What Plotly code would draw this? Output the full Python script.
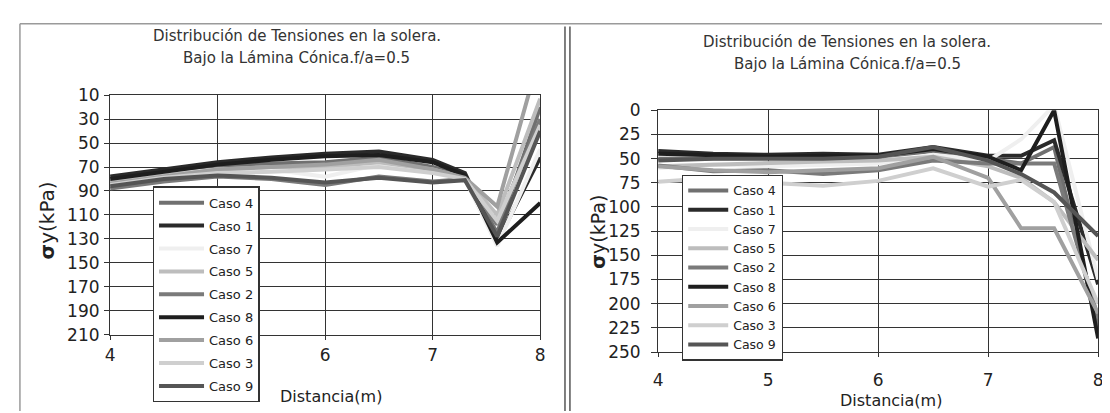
import plotly.graph_objects as go

W, H = 1110, 413

names = ["Caso 4", "Caso 1", "Caso 7", "Caso 5", "Caso 2", "Caso 8", "Caso 6", "Caso 3", "Caso 9"]
colors = ["#707070", "#2a2a2a", "#efefef", "#bdbdbd", "#7a7a7a", "#1e1e1e", "#a0a0a0", "#cfcfcf", "#555555"]

x_dist = [4, 4.5, 5, 5.5, 6, 6.5, 7, 7.3, 7.6, 8]

# Left chart values (kPa)
left_caso4 = [82, 76, 70, 67, 66, 62, 70, 78, 125, 20]
left_caso1 = [78, 72, 66, 62, 59, 57, 64, 75, 132, 62]
left_caso7 = [81, 76, 72, 72, 78, 68, 74, 80, 136, 55]
left_caso5 = [83, 77, 72, 70, 70, 66, 72, 79, 110, 13]
left_caso2 = [88, 82, 78, 80, 85, 78, 82, 80, 118, 30]
left_caso8 = [80, 74, 68, 64, 61, 60, 66, 77, 133, 100]
left_caso6 = [84, 78, 72, 70, 68, 64, 72, 79, 103, -25]
left_caso3 = [85, 79, 75, 74, 72, 70, 75, 80, 115, 35]
left_caso9 = [86, 80, 77, 79, 83, 79, 83, 81, 128, 40]

# Right chart values (kPa)
right_caso4 = [50, 50, 50, 49, 48, 42, 50, 55, 38, 225]
right_caso1 = [42, 45, 46, 45, 46, 38, 47, 47, 31, 180]
right_caso7 = [60, 56, 58, 57, 55, 46, 52, 30, -5, 175]
right_caso5 = [58, 56, 54, 53, 52, 48, 58, 70, 95, 155]
right_caso2 = [57, 63, 62, 66, 62, 52, 55, 55, 55, 215]
right_caso8 = [45, 47, 48, 47, 47, 40, 48, 62, 0, 236]
right_caso6 = [58, 62, 64, 62, 60, 48, 70, 122, 122, 210]
right_caso3 = [74, 70, 75, 78, 73, 60, 79, 72, 95, 200]
right_caso9 = [52, 50, 50, 50, 48, 38, 52, 66, 85, 130]

left_series = [left_caso4, left_caso1, left_caso7, left_caso5, left_caso2,
               left_caso8, left_caso6, left_caso3, left_caso9]
right_series = [right_caso4, right_caso1, right_caso7, right_caso5, right_caso2,
                right_caso8, right_caso6, right_caso3, right_caso9]

left_yticks = list(range(10, 211, 20))
right_yticks = list(range(0, 251, 25))
left_xticks = [4, 5, 6, 7, 8]
left_xlabels = ["4", "", "6", "7", "8"]   # the "5" is hidden behind the legend in the reference
right_xticks = [4, 5, 6, 7, 8]

title1 = "Distribución de Tensiones en la solera."
title2 = "Bajo la Lámina Cónica.f/a=0.5"
xtitle = "Distancia(m)"
ytitle = "<b>σ</b>y(kPa)"

FONT = "DejaVu Sans"

fig = go.Figure()
for i, (n, c) in enumerate(zip(names, colors)):
    fig.add_trace(go.Scatter(x=x_dist, y=left_series[i], name=n, mode="lines",
                             line=dict(color=c, width=4), xaxis="x", yaxis="y",
                             legend="legend", legendgroup="L" + str(i)))
for i, (n, c) in enumerate(zip(names, colors)):
    fig.add_trace(go.Scatter(x=x_dist, y=right_series[i], name=n, mode="lines",
                             line=dict(color=c, width=4), xaxis="x2", yaxis="y2",
                             legend="legend2", legendgroup="R" + str(i)))

def px(v):
    return v / W

def py(v):
    return 1 - v / H

axis_common = dict(showgrid=True, gridcolor="#333333", gridwidth=1.3,
                   showline=True, linecolor="#333333", linewidth=1.3, mirror=True,
                   zeroline=False, ticks="outside", tickcolor="#333333",
                   tickfont=dict(family=FONT, size=17, color="#222222"))

fig.update_layout(
    width=W, height=H,
    margin=dict(l=0, r=0, t=0, b=0),
    paper_bgcolor="white", plot_bgcolor="white",
    showlegend=True,
    xaxis=dict(domain=[px(98), px(532)], range=[4, 8], tickvals=left_xticks,
               ticktext=left_xlabels,
               anchor="y", ticklen=4, ticklabelstandoff=1, **axis_common),
    yaxis=dict(domain=[py(333), py(81)], range=[210, 10], tickvals=left_yticks,
               anchor="x", ticklen=5, ticklabelstandoff=1, **axis_common),
    xaxis2=dict(domain=[px(651), px(1095)], range=[4, 8], tickvals=right_xticks,
                anchor="y2", ticklen=4, ticklabelstandoff=8, **axis_common),
    yaxis2=dict(domain=[py(351), py(97)], range=[250, 0], tickvals=right_yticks,
                anchor="x2", ticklen=6, ticklabelstandoff=7, **axis_common),
    legend=dict(x=px(141), y=py(404), xanchor="left", yanchor="bottom",
                bgcolor="white", bordercolor="#333333", borderwidth=1.3,
                font=dict(family=FONT, size=13, color="#222222"),
                tracegroupgap=3, itemwidth=45, traceorder="grouped"),
    legend2=dict(x=px(675), y=py(360), xanchor="left", yanchor="bottom",
                 bgcolor="white", bordercolor="#333333", borderwidth=1.3,
                 font=dict(family=FONT, size=12.5, color="#222222"),
                 tracegroupgap=0, itemwidth=40, traceorder="grouped"),
)

ann_font = dict(family=FONT, size=15, color="#333333")
anns = [
    (287, 19, title1, ann_font, 0),
    (286, 42, title2, ann_font, 0),
    (842, 25, title1, ann_font, 0),
    (842, 48, title2, ann_font, 0),
    (321, 398, xtitle, dict(family=FONT, size=16, color="#222222"), 0),
    (886, 402, xtitle, dict(family=FONT, size=16, color="#222222"), 0),
    (34, 213, ytitle, dict(family=FONT, size=20, color="#222222"), -90),
    (590, 225, ytitle, dict(family=FONT, size=19, color="#222222"), -90),
]
for x0, y0, t, f, ang in anns:
    fig.add_annotation(x=px(x0), y=py(y0), xref="paper", yref="paper", text=t,
                       showarrow=False, font=f, textangle=ang,
                       xanchor="center", yanchor="middle")

shapes = [
    dict(type="line", xref="paper", yref="paper", x0=px(7), x1=1, y0=py(6), y1=py(6),
         line=dict(color="#9a9a9a", width=1.5)),
    dict(type="line", xref="paper", yref="paper", x0=px(7), x1=px(7), y0=py(6), y1=0,
         line=dict(color="#9a9a9a", width=1.5)),
    dict(type="line", xref="paper", yref="paper", x0=px(557), x1=px(557), y0=py(9), y1=0,
         line=dict(color="#555555", width=1.5)),
    dict(type="line", xref="paper", yref="paper", x0=px(562), x1=px(562), y0=py(9), y1=0,
         line=dict(color="#555555", width=1.5)),
]
fig.update_layout(shapes=shapes)

fig.write_html("out.html")
